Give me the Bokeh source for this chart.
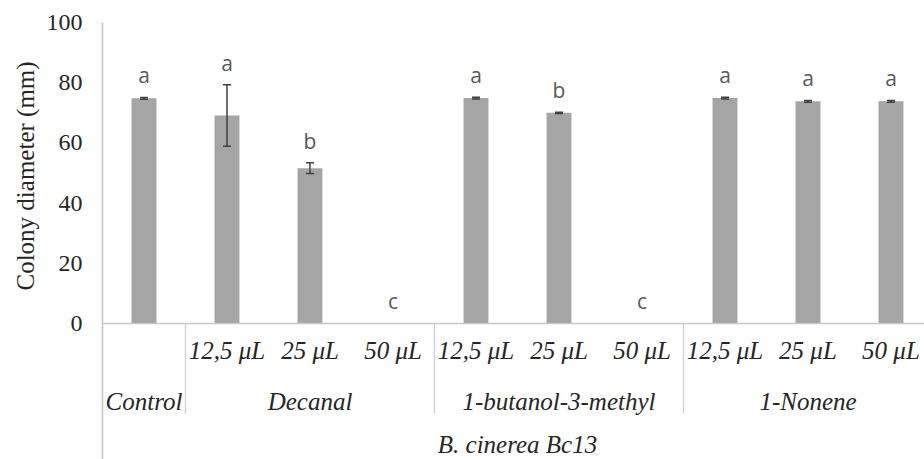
import numpy as np
from bokeh.plotting import figure
from bokeh.models import (ColumnDataSource, Range1d, FixedTicker, Span, Label,
                          LabelSet, Whisker, TeeHead, Title)
from bokeh.core.properties import value
from bokeh.embed import file_html
from bokeh.resources import INLINE

# ---------------- data ----------------
groups = ["Control", "Decanal", "Decanal", "Decanal",
          "1-butanol-3-methyl", "1-butanol-3-methyl", "1-butanol-3-methyl",
          "1-Nonene", "1-Nonene", "1-Nonene"]
doses = ["", "12,5 \u03bcL", "25 \u03bcL", "50 \u03bcL",
         "12,5 \u03bcL", "25 \u03bcL", "50 \u03bcL",
         "12,5 \u03bcL", "25 \u03bcL", "50 \u03bcL"]
means = [74.8, 69.1, 51.6, 0.0, 74.9, 70.0, 0.0, 74.9, 73.8, 73.8]
sds = [0.3, 10.2, 1.8, 0.0, 0.3, 0.2, 0.0, 0.3, 0.3, 0.3]
letters = ["a", "a", "b", "c", "a", "b", "c", "a", "a", "a"]
strain = "B. cinerea Bc13"
y_title = "Colony diameter (mm)"
y_ticks = [0, 20, 40, 60, 80, 100]

# ---------------- layout constants ----------------
SERIF = "Liberation Serif"
TXT = "#262626"
ROW1_Y, ROW2_Y, ROW3_Y = -9.0, -25.9, -40.3
SEP_BOTTOM = -29.9

n = len(means)
xc = list(np.arange(n) + 0.5)
upper = [m + s for m, s in zip(means, sds)]
lower = [m - s for m, s in zip(means, sds)]
src = ColumnDataSource(dict(x=xc, top=means, letter=letters, dose=doses,
                            ly=[max(u, 0) for u in upper]))
keep = [i for i in range(n) if means[i] > 0]
esrc = ColumnDataSource(dict(x=[xc[i] for i in keep],
                             upper=[upper[i] for i in keep],
                             lower=[lower[i] for i in keep]))

p = figure(width=924, height=459, output_backend="svg", toolbar_location=None,
           x_range=Range1d(0, 9.904), y_range=Range1d(-45.2, 100),
           min_border_left=102, min_border_right=0, min_border_top=22,
           min_border_bottom=0)
p.outline_line_color = None
p.xgrid.visible = False
p.ygrid.visible = False
p.xaxis.visible = False
p.background_fill_color = "white"
p.border_fill_color = "white"

ya = p.yaxis[0]
ya.ticker = FixedTicker(ticks=y_ticks)
ya.major_tick_line_color = None
ya.minor_tick_line_color = None
ya.major_tick_out = 0
ya.major_label_standoff = 20
ya.axis_line_color = "#c4c4c4"
ya.axis_line_width = 1.5
ya.major_label_text_font = SERIF
ya.major_label_text_font_size = "24px"
ya.major_label_text_color = TXT

# y title (placed on the left side, aligned to the 0-100 part of the axis)
p.add_layout(Title(text=y_title, align="left", offset=169, text_font=SERIF,
                   text_font_size="25px", text_font_style="normal",
                   text_color=TXT, standoff=10), "left")

# baseline
p.add_layout(Span(location=0, dimension="width", line_color="#c8c8c8", line_width=1.5))

# group separators
bounds = [i for i in range(1, n) if groups[i] != groups[i - 1]]
p.segment(x0=bounds, x1=bounds, y0=[0] * len(bounds), y1=[SEP_BOTTOM] * len(bounds),
          line_color="#d2d2d2", line_width=1.5)

# bars
p.vbar(x="x", top="top", width=0.30, source=src, fill_color="#a5a5a5",
       line_color=None)

# error bars
p.add_layout(Whisker(base="x", upper="upper", lower="lower", source=esrc,
                     level="overlay", line_color="#404040", line_width=1.5,
                     upper_head=TeeHead(size=8, line_color="#404040", line_width=1.5),
                     lower_head=TeeHead(size=8, line_color="#404040", line_width=1.5)))

# significance letters
p.add_layout(LabelSet(x="x", y="ly", text="letter", source=src, y_offset=22,
                      text_align="center", text_baseline="middle",
                      text_font=value("Open Sans"), text_font_size=value("21px"),
                      text_color="#595959"))

# dose row
p.add_layout(LabelSet(x="x", y=ROW1_Y, text="dose", source=src,
                      text_align="center", text_baseline="middle",
                      text_font=value(SERIF), text_font_style="italic",
                      text_font_size=value("25px"), text_color=TXT))

# group row
starts = [0] + bounds
ends = bounds + [n]
gsrc = ColumnDataSource(dict(x=[(s + e) / 2 for s, e in zip(starts, ends)],
                             name=[groups[s] for s in starts]))
p.add_layout(LabelSet(x="x", y=ROW2_Y, text="name", source=gsrc,
                      text_align="center", text_baseline="middle",
                      text_font=value(SERIF), text_font_style="italic",
                      text_font_size=value("25px"), text_color=TXT))

# strain row
p.add_layout(Label(x=n / 2, y=ROW3_Y, text=strain, text_align="center",
                   text_baseline="middle", text_font=SERIF,
                   text_font_style="italic", text_font_size="25px",
                   text_color=TXT))

open("out.html", "w").write(file_html(p, INLINE))
